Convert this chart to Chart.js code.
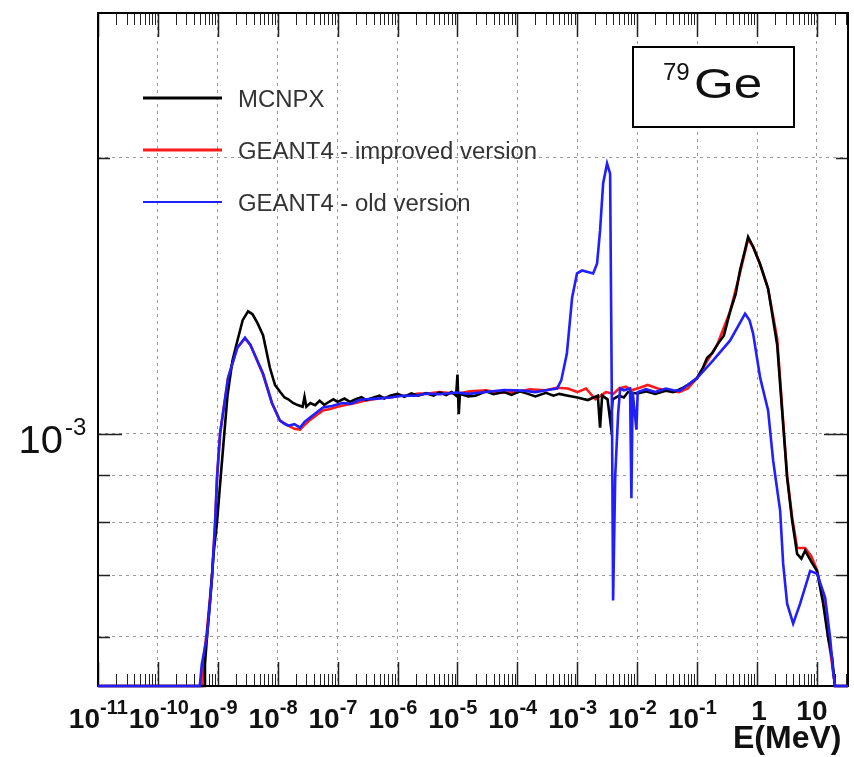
<!DOCTYPE html>
<html>
<head>
<meta charset="utf-8">
<script src="https://cdn.jsdelivr.net/npm/chart.js@4.4.0/dist/chart.umd.min.js"></script>
<style>
  html, body { margin: 0; padding: 0; background: #fff; }
  canvas { display: block; }
</style>
</head>
<body>
<canvas id="spectrum" width="854" height="757"></canvas>
<script>
// axis ranges (E in MeV, y = flux per bin)
const X_MIN = 1e-11, X_MAX = 33;
const Y_MIN = 5.3e-4, Y_MAX = 2.88e-3;

const xTickValues = [1e-11, 1e-10, 1e-9, 1e-8, 1e-7, 1e-6, 1e-5, 1e-4, 1e-3, 1e-2, 1e-1, 1, 10];
const xTickBase   = ['10', '10', '10', '10', '10', '10', '10', '10', '10', '10', '10', '1', '10'];
const xTickSup    = ['-11', '-10', '-9', '-8', '-7', '-6', '-5', '-4', '-3', '-2', '-1', '', ''];
const yTickValues = [6e-4, 7e-4, 8e-4, 9e-4, 1e-3, 2e-3];

// MCNPX
const mcnpxE = [1e-11, 5.9e-10, 6.1e-10, 6.6e-10, 7.5e-10, 8.5e-10, 9.7e-10, 1.09e-9, 1.25e-9, 1.45e-9,
  1.75e-9, 2.1e-9, 2.6e-9, 3.2e-9, 3.8e-9, 4.6e-9, 5.7e-9, 7.4e-9, 9e-9, 1.1e-8,
  1.3e-8, 1.5e-8, 1.8e-8, 2.1e-8, 2.6e-8, 2.8e-8, 3e-8, 3.5e-8, 4.2e-8, 5e-8,
  6e-8, 7e-8, 8.5e-8, 1e-7, 1.3e-7, 1.6e-7, 2e-7, 2.5e-7, 3e-7, 4e-7,
  5e-7, 6e-7, 7.5e-7, 1e-6, 1.3e-6, 1.7e-6, 2.2e-6, 3e-6, 4e-6, 5e-6,
  6.5e-6, 8e-6, 9.5e-6, 1e-5, 1.05e-5, 1.1e-5, 1.5e-5, 2e-5, 3e-5, 4e-5,
  6e-5, 8e-5, 1.1e-4, 1.5e-4, 2e-4, 3e-4, 4e-4, 5e-4, 7e-4, 1e-3,
  1.5e-3, 2.2e-3, 2.4e-3, 2.6e-3, 3.2e-3, 3.6e-3, 3.9e-3, 5e-3, 6e-3, 7e-3,
  1e-2, 1.4e-2, 2e-2, 3e-2, 4e-2, 5.5e-2, 7e-2, 0.1, 0.125, 0.147,
  0.18, 0.216, 0.28, 0.356, 0.44, 0.522, 0.62, 0.71, 0.86, 1.13,
  1.53, 2.17, 2.62, 3.18, 3.86, 4.67, 5.5, 6.35, 8, 10,
  12.7, 15.4, 17.9, 20, 33];
const mcnpxY = [5.3e-4, 5.3e-4, 5.6e-4, 6.0e-4, 6.6e-4, 7.4e-4, 8.0e-4, 8.8e-4, 9.8e-4, 1.10e-3,
  1.20e-3, 1.26e-3, 1.33e-3, 1.36e-3, 1.35e-3, 1.32e-3, 1.28e-3, 1.18e-3, 1.13e-3, 1.11e-3,
  1.095e-3, 1.09e-3, 1.08e-3, 1.075e-3, 1.07e-3, 1.097e-3, 1.07e-3, 1.08e-3, 1.074e-3, 1.086e-3,
  1.075e-3, 1.082e-3, 1.09e-3, 1.083e-3, 1.092e-3, 1.083e-3, 1.09e-3, 1.096e-3, 1.088e-3, 1.095e-3,
  1.10e-3, 1.092e-3, 1.10e-3, 1.105e-3, 1.097e-3, 1.106e-3, 1.10e-3, 1.107e-3, 1.10e-3, 1.109e-3,
  1.102e-3, 1.11e-3, 1.10e-3, 1.16e-3, 1.05e-3, 1.105e-3, 1.098e-3, 1.10e-3, 1.112e-3, 1.104e-3,
  1.11e-3, 1.102e-3, 1.112e-3, 1.105e-3, 1.098e-3, 1.108e-3, 1.10e-3, 1.105e-3, 1.10e-3, 1.095e-3,
  1.088e-3, 1.10e-3, 1.015e-3, 1.10e-3, 1.09e-3, 1.025e-3, 1.09e-3, 1.10e-3, 1.095e-3, 1.11e-3,
  1.106e-3, 1.112e-3, 1.105e-3, 1.114e-3, 1.11e-3, 1.12e-3, 1.13e-3, 1.15e-3, 1.18e-3, 1.21e-3,
  1.225e-3, 1.25e-3, 1.28e-3, 1.36e-3, 1.42e-3, 1.51e-3, 1.58e-3, 1.64e-3, 1.60e-3, 1.53e-3,
  1.44e-3, 1.25e-3, 1.06e-3, 8.95e-4, 8.03e-4, 7.39e-4, 7.3e-4, 7.45e-4, 7.25e-4, 7.08e-4,
  6.52e-4, 5.98e-4, 5.69e-4, 5.3e-4, 5.3e-4];

// GEANT4 - improved version
const improvedE = [1e-11, 5.5e-10, 5.8e-10, 6.6e-10, 8e-10, 9e-10, 9.7e-10, 1.09e-9, 1.48e-9, 2.1e-9,
  2.84e-9, 3.5e-9, 5.68e-9, 8e-9, 1.09e-8, 1.5e-8, 1.9e-8, 2.36e-8, 2.8e-8, 3.46e-8,
  4.5e-8, 5.7e-8, 7.5e-8, 1e-7, 1.4e-7, 2e-7, 2.8e-7, 4e-7, 5.5e-7, 7.5e-7,
  1.1e-6, 1.5e-6, 2.2e-6, 3e-6, 5e-6, 1e-5, 1.6e-5, 3e-5, 5e-5, 1e-4,
  1.6e-4, 3e-4, 4.5e-4, 7e-4, 1e-3, 1.4e-3, 2e-3, 3e-3, 4e-3, 5e-3,
  6.5e-3, 8e-3, 1.1e-2, 1.5e-2, 2.2e-2, 3e-2, 5e-2, 7e-2, 0.1, 0.147,
  0.216, 0.356, 0.522, 0.71, 0.86, 1.13, 1.53, 2.17, 2.62, 3.18,
  3.86, 4.67, 6.35, 8, 10, 12.7, 15.4, 17.9, 20, 33];
const improvedY = [5.3e-4, 5.3e-4, 5.7e-4, 6.1e-4, 7.0e-4, 8.0e-4, 8.95e-4, 1.0e-3, 1.15e-3, 1.24e-3,
  1.27e-3, 1.25e-3, 1.16e-3, 1.08e-3, 1.033e-3, 1.02e-3, 1.012e-3, 1.01e-3, 1.022e-3, 1.035e-3,
  1.048e-3, 1.06e-3, 1.064e-3, 1.07e-3, 1.075e-3, 1.08e-3, 1.086e-3, 1.09e-3, 1.094e-3, 1.095e-3,
  1.1e-3, 1.10e-3, 1.106e-3, 1.105e-3, 1.11e-3, 1.105e-3, 1.112e-3, 1.115e-3, 1.108e-3, 1.11e-3,
  1.118e-3, 1.115e-3, 1.122e-3, 1.12e-3, 1.11e-3, 1.12e-3, 1.09e-3, 1.11e-3, 1.105e-3, 1.12e-3,
  1.125e-3, 1.115e-3, 1.122e-3, 1.13e-3, 1.12e-3, 1.115e-3, 1.11e-3, 1.12e-3, 1.15e-3, 1.20e-3,
  1.25e-3, 1.36e-3, 1.50e-3, 1.63e-3, 1.60e-3, 1.53e-3, 1.44e-3, 1.27e-3, 1.07e-3, 9.0e-4,
  8.1e-4, 7.5e-4, 7.5e-4, 7.35e-4, 7.1e-4, 6.6e-4, 6.0e-4, 5.6e-4, 5.3e-4, 5.3e-4];

// GEANT4 - old version
const oldE = [1e-11, 5.0e-10, 5.4e-10, 6.6e-10, 8e-10, 9e-10, 9.7e-10, 1.09e-9, 1.48e-9, 2.1e-9,
  2.84e-9, 3.5e-9, 5.68e-9, 8e-9, 1.09e-8, 1.3e-8, 1.5e-8, 1.9e-8, 2.36e-8, 2.8e-8,
  3.46e-8, 4.5e-8, 5.7e-8, 8e-8, 1.2e-7, 1.7e-7, 2.3e-7, 3e-7, 4.5e-7, 7.5e-7,
  1.2e-6, 2e-6, 3e-6, 5e-6, 1e-5, 1.5e-5, 3e-5, 6e-5, 1.24e-4, 2e-4,
  3e-4, 4.6e-4, 5.4e-4, 6.7e-4, 8.2e-4, 9.9e-4, 1.2e-3, 1.84e-3, 2.14e-3, 2.4e-3,
  2.7e-3, 3.14e-3, 3.53e-3, 3.81e-3, 3.96e-3, 4.3e-3, 4.8e-3, 5.2e-3, 6e-3, 7.6e-3,
  8.0e-3, 8.4e-3, 9.7e-3, 1.02e-2, 1.4e-2, 2e-2, 3e-2, 4e-2, 5.2e-2, 0.1,
  0.185, 0.356, 0.632, 0.75, 0.861, 1.127, 1.53, 1.86, 2.43, 2.73,
  3.18, 4.01, 5.24, 7.7, 10.07, 13.7, 16.6, 18.6, 20.1, 33];
const oldY = [5.3e-4, 5.3e-4, 5.6e-4, 6.0e-4, 6.96e-4, 7.97e-4, 8.95e-4, 1.0e-3, 1.15e-3, 1.24e-3,
  1.273e-3, 1.25e-3, 1.163e-3, 1.08e-3, 1.033e-3, 1.025e-3, 1.02e-3, 1.024e-3, 1.015e-3, 1.03e-3,
  1.041e-3, 1.055e-3, 1.068e-3, 1.072e-3, 1.08e-3, 1.078e-3, 1.088e-3, 1.09e-3, 1.092e-3, 1.095e-3,
  1.1e-3, 1.10e-3, 1.106e-3, 1.104e-3, 1.109e-3, 1.105e-3, 1.11e-3, 1.116e-3, 1.114e-3, 1.11e-3,
  1.115e-3, 1.12e-3, 1.143e-3, 1.223e-3, 1.408e-3, 1.496e-3, 1.507e-3, 1.496e-3, 1.534e-3, 1.667e-3,
  1.876e-3, 1.973e-3, 1.923e-3, 1.0e-3, 6.57e-4, 9.0e-4, 1.05e-3, 1.12e-3, 1.115e-3, 1.12e-3,
  8.5e-4, 1.11e-3, 1.01e-3, 1.11e-3, 1.118e-3, 1.11e-3, 1.12e-3, 1.115e-3, 1.114e-3, 1.15e-3,
  1.202e-3, 1.264e-3, 1.352e-3, 1.33e-3, 1.286e-3, 1.151e-3, 1.06e-3, 9.34e-4, 8.24e-4, 7.21e-4,
  6.52e-4, 6.2e-4, 6.52e-4, 7.08e-4, 7.03e-4, 6.62e-4, 5.98e-4, 5.51e-4, 5.3e-4, 5.3e-4];

const FONT = '"Liberation Sans", Arial, Helvetica, sans-serif';

function pairs(es, ys) {
  return es.map((e, i) => ({ x: e, y: ys[i] }));
}

function txt(ctx, s, x, y, font, align, sx) {
  ctx.save();
  ctx.font = font;
  ctx.textAlign = align || 'left';
  ctx.textBaseline = 'alphabetic';
  ctx.translate(x, y);
  ctx.scale(sx || 1, 1);
  ctx.fillText(s, 0, 0);
  ctx.restore();
}

// ROOT-like frame: inward ticks on four sides, labels with exponents, legend, nuclide box
const rootStyle = {
  id: 'rootStyle',
  beforeDatasetsDraw(chart) {
    const { ctx, chartArea: a, scales: { x, y } } = chart;
    ctx.save();

    // tick marks
    ctx.strokeStyle = '#222';
    for (let d = -11; d <= 1; d++) {
      for (let k = 1; k <= 9; k++) {
        const v = k * Math.pow(10, d);
        if (v < X_MIN || v > X_MAX) continue;
        const px = Math.round(x.getPixelForValue(v)) + 0.5;
        const len = k === 1 ? 24 : 12;
        ctx.lineWidth = k === 1 ? 1.5 : 1;
        ctx.beginPath();
        ctx.moveTo(px, a.bottom); ctx.lineTo(px, a.bottom - len);
        ctx.moveTo(px, a.top); ctx.lineTo(px, a.top + len);
        ctx.stroke();
      }
    }
    yTickValues.forEach(v => {
      const py = Math.round(y.getPixelForValue(v)) + 0.5;
      const len = v === 1e-3 ? 24 : 12;
      ctx.lineWidth = 1.5;
      ctx.beginPath();
      ctx.moveTo(a.left, py); ctx.lineTo(a.left + len, py);
      ctx.moveTo(a.right, py); ctx.lineTo(a.right - len, py);
      ctx.stroke();
    });

    // frame
    ctx.lineWidth = 2;
    ctx.strokeStyle = '#000';
    ctx.strokeRect(a.left, a.top, a.right - a.left, a.bottom - a.top);
    ctx.restore();
  },
  afterDatasetsDraw(chart) {
    const { ctx, scales: { x, y } } = chart;
    ctx.save();

    // x labels
    ctx.fillStyle = '#111';
    xTickValues.forEach((v, i) => {
      const px = x.getPixelForValue(v);
      if (xTickSup[i]) {
        txt(ctx, xTickBase[i], px + 2, 728, 'bold 28px ' + FONT, 'right');
        txt(ctx, xTickSup[i], px + 2, 714, 'bold 20px ' + FONT, 'left');
      } else {
        txt(ctx, xTickBase[i], px + (xTickBase[i] === '1' ? 2 : -5), 720, 'bold 28px ' + FONT, 'center');
      }
    });
    txt(ctx, 'E(MeV)', 733, 748, 'bold 32px ' + FONT, 'left');

    // y label
    const py3 = y.getPixelForValue(1e-3);
    txt(ctx, '10', 63, py3 + 19, '38px ' + FONT, 'right', 1.05);
    txt(ctx, '-3', 65, py3 + 1, '24px ' + FONT, 'left');

    // legend
    const rows = [98, 150, 202];
    chart.data.datasets
      .slice()
      .sort((p, q) => p.legendIndex - q.legendIndex)
      .forEach((ds, i) => {
        ctx.strokeStyle = ds.borderColor;
        ctx.lineWidth = i === 2 ? 2 : 3;
        ctx.beginPath();
        ctx.moveTo(143, rows[i]); ctx.lineTo(222, rows[i]);
        ctx.stroke();
        ctx.fillStyle = '#333';
        txt(ctx, ds.label, 238, rows[i] + 9, '23px ' + FONT, 'left', 1.04);
      });

    // nuclide box
    ctx.fillStyle = '#fff';
    ctx.fillRect(633, 47, 161, 80);
    ctx.strokeStyle = '#000';
    ctx.lineWidth = 2;
    ctx.strokeRect(633, 47, 161, 80);
    ctx.fillStyle = '#111';
    txt(ctx, '79', 663, 80, '24px ' + FONT, 'left');
    txt(ctx, 'Ge', 694, 98, '42px ' + FONT, 'left', 1.22);

    ctx.restore();
  }
};

new Chart(document.getElementById('spectrum'), {
  type: 'line',
  data: {
    datasets: [
      { label: 'GEANT4 - old version', legendIndex: 2, data: pairs(oldE, oldY),
        borderColor: '#1f1fff', order: 0 },
      { label: 'MCNPX', legendIndex: 0, data: pairs(mcnpxE, mcnpxY),
        borderColor: '#000000', order: 1 },
      { label: 'GEANT4 - improved version', legendIndex: 1, data: pairs(improvedE, improvedY),
        borderColor: '#ff1a1a', order: 2 }
    ]
  },
  options: {
    responsive: false,
    animation: false,
    layout: { padding: { left: 98, right: 6, top: 13, bottom: 71 } },
    elements: {
      point: { radius: 0 },
      line: { borderWidth: 2.6, tension: 0 }
    },
    datasets: { line: { clip: 3 } },
    plugins: { legend: { display: false }, tooltip: { enabled: false } },
    scales: {
      x: {
        type: 'logarithmic',
        min: X_MIN, max: X_MAX,
        afterBuildTicks: s => { s.ticks = xTickValues.map(v => ({ value: v })); },
        ticks: { display: false },
        grid: { color: '#9a9a9a', lineWidth: 1, drawTicks: false },
        border: { display: false, dash: [3, 4] }
      },
      y: {
        type: 'logarithmic',
        min: Y_MIN, max: Y_MAX,
        afterBuildTicks: s => { s.ticks = yTickValues.map(v => ({ value: v })); },
        ticks: { display: false },
        grid: { color: '#9a9a9a', lineWidth: 1, drawTicks: false },
        border: { display: false, dash: [3, 4] }
      }
    }
  },
  plugins: [rootStyle]
});
</script>
</body>
</html>
